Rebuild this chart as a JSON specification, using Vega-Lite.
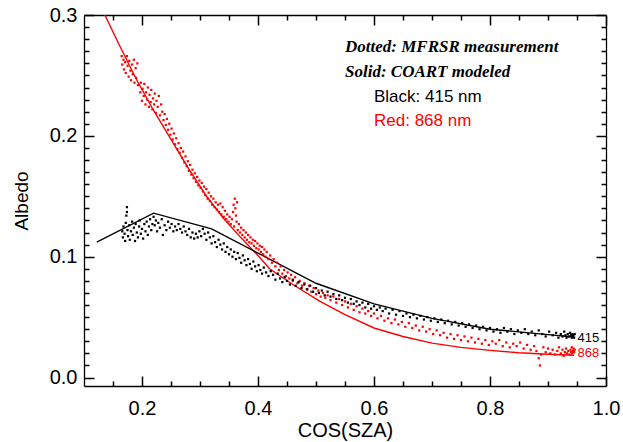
{
"$schema": "https://vega.github.io/schema/vega-lite/v6.json",
"width": 522, "height": 371,
"autosize": {"type": "none"},
"padding": {"left": 84, "top": 15, "right": 17, "bottom": 56},
"background": "white",
"config": {"view": {"stroke": null}, "axis": {"grid": false, "domainColor": "black", "tickColor": "black", "labelColor": "black", "titleColor": "black", "labelFont": "Liberation Sans", "titleFont": "Liberation Sans", "titleFontWeight": "normal", "domainWidth": 1.3, "tickWidth": 1.5, "labelFlush": false, "labelOverlap": false}},
"datasets": {
"redModel": [
{"x":0.136,"y":0.300},{"x":0.16,"y":0.276},{"x":0.19,"y":0.247},{"x":0.22,"y":0.221},{"x":0.25,"y":0.197},{"x":0.28,"y":0.173},{"x":0.31,"y":0.151},{"x":0.34,"y":0.132},{"x":0.37,"y":0.116},{"x":0.40,"y":0.101},{"x":0.42,"y":0.090},{"x":0.46,"y":0.077},{"x":0.507,"y":0.063},{"x":0.55,"y":0.052},{"x":0.60,"y":0.041},{"x":0.65,"y":0.034},{"x":0.70,"y":0.0285},{"x":0.75,"y":0.025},{"x":0.80,"y":0.0225},{"x":0.85,"y":0.0205},{"x":0.90,"y":0.0193},{"x":0.945,"y":0.0185}
],
"blackModel": [
{"x":0.122,"y":0.112},{"x":0.22,"y":0.136},{"x":0.32,"y":0.123},{"x":0.40,"y":0.103},{"x":0.50,"y":0.078},{"x":0.60,"y":0.061},{"x":0.70,"y":0.049},{"x":0.80,"y":0.040},{"x":0.90,"y":0.0355},{"x":0.945,"y":0.0335}
],
"blackMeas": [
{"x":0.166,"y":0.121},{"x":0.167,"y":0.116},{"x":0.168,"y":0.125},{"x":0.170,"y":0.119},{"x":0.171,"y":0.113},{"x":0.172,"y":0.128},{"x":0.173,"y":0.134},{"x":0.174,"y":0.141},{"x":0.174,"y":0.137},{"x":0.175,"y":0.122},{"x":0.176,"y":0.117},{"x":0.178,"y":0.126},{"x":0.179,"y":0.114},{"x":0.181,"y":0.121},{"x":0.183,"y":0.129},{"x":0.184,"y":0.118},{"x":0.186,"y":0.124},{"x":0.188,"y":0.113},{"x":0.189,"y":0.127},{"x":0.191,"y":0.120},{"x":0.193,"y":0.116},{"x":0.195,"y":0.125},{"x":0.196,"y":0.130},{"x":0.198,"y":0.119},{"x":0.200,"y":0.123},{"x":0.202,"y":0.115},{"x":0.204,"y":0.127},{"x":0.206,"y":0.121},{"x":0.208,"y":0.129},{"x":0.210,"y":0.118},{"x":0.212,"y":0.125},{"x":0.214,"y":0.131},{"x":0.216,"y":0.122},{"x":0.218,"y":0.127},{"x":0.220,"y":0.133},{"x":0.222,"y":0.126},{"x":0.224,"y":0.130},{"x":0.226,"y":0.121},{"x":0.228,"y":0.128},{"x":0.231,"y":0.124},{"x":0.234,"y":0.131},{"x":0.236,"y":0.118},{"x":0.239,"y":0.126},{"x":0.242,"y":0.122},{"x":0.245,"y":0.129},{"x":0.248,"y":0.124},{"x":0.251,"y":0.127},{"x":0.254,"y":0.121},{"x":0.257,"y":0.125},{"x":0.260,"y":0.122},{"x":0.263,"y":0.127},{"x":0.266,"y":0.123},{"x":0.269,"y":0.120},{"x":0.272,"y":0.125},{"x":0.275,"y":0.121},{"x":0.278,"y":0.118},{"x":0.281,"y":0.123},{"x":0.284,"y":0.116},{"x":0.287,"y":0.120},{"x":0.290,"y":0.115},{"x":0.293,"y":0.119},{"x":0.296,"y":0.116},{"x":0.299,"y":0.121},{"x":0.302,"y":0.117},{"x":0.305,"y":0.123},{"x":0.308,"y":0.119},{"x":0.311,"y":0.114},{"x":0.314,"y":0.120},{"x":0.317,"y":0.116},{"x":0.320,"y":0.111},{"x":0.323,"y":0.117},{"x":0.326,"y":0.112},{"x":0.329,"y":0.108},{"x":0.332,"y":0.114},{"x":0.335,"y":0.110},{"x":0.338,"y":0.106},{"x":0.341,"y":0.111},{"x":0.344,"y":0.104},{"x":0.347,"y":0.108},{"x":0.350,"y":0.102},{"x":0.353,"y":0.106},{"x":0.356,"y":0.100},{"x":0.359,"y":0.104},{"x":0.362,"y":0.098},{"x":0.365,"y":0.103},{"x":0.368,"y":0.099},{"x":0.371,"y":0.095},{"x":0.374,"y":0.101},{"x":0.377,"y":0.097},{"x":0.380,"y":0.093},{"x":0.383,"y":0.098},{"x":0.386,"y":0.094},{"x":0.389,"y":0.090},{"x":0.392,"y":0.096},{"x":0.395,"y":0.092},{"x":0.398,"y":0.088},{"x":0.401,"y":0.093},{"x":0.404,"y":0.089},{"x":0.407,"y":0.086},{"x":0.410,"y":0.091},{"x":0.414,"y":0.087},{"x":0.418,"y":0.084},{"x":0.422,"y":0.088},{"x":0.426,"y":0.085},{"x":0.430,"y":0.081},{"x":0.434,"y":0.086},{"x":0.438,"y":0.082},{"x":0.442,"y":0.079},{"x":0.446,"y":0.083},{"x":0.450,"y":0.080},{"x":0.455,"y":0.077},{"x":0.460,"y":0.081},{"x":0.465,"y":0.076},{"x":0.470,"y":0.079},{"x":0.475,"y":0.074},{"x":0.480,"y":0.077},{"x":0.485,"y":0.073},{"x":0.490,"y":0.076},{"x":0.495,"y":0.071},{"x":0.500,"y":0.074},{"x":0.505,"y":0.070},{"x":0.510,"y":0.072},{"x":0.515,"y":0.068},{"x":0.520,"y":0.071},{"x":0.525,"y":0.067},{"x":0.530,"y":0.069},{"x":0.535,"y":0.065},{"x":0.540,"y":0.068},{"x":0.545,"y":0.064},{"x":0.550,"y":0.066},{"x":0.555,"y":0.062},{"x":0.560,"y":0.065},{"x":0.565,"y":0.061},{"x":0.570,"y":0.063},{"x":0.575,"y":0.060},{"x":0.580,"y":0.062},{"x":0.585,"y":0.058},{"x":0.590,"y":0.061},{"x":0.595,"y":0.057},{"x":0.600,"y":0.059},{"x":0.605,"y":0.056},{"x":0.610,"y":0.058},{"x":0.615,"y":0.055},{"x":0.620,"y":0.057},{"x":0.626,"y":0.053},{"x":0.632,"y":0.056},{"x":0.638,"y":0.052},{"x":0.644,"y":0.055},{"x":0.650,"y":0.051},{"x":0.656,"y":0.053},{"x":0.662,"y":0.050},{"x":0.668,"y":0.052},{"x":0.674,"y":0.049},{"x":0.680,"y":0.051},{"x":0.686,"y":0.048},{"x":0.692,"y":0.050},{"x":0.698,"y":0.047},{"x":0.704,"y":0.049},{"x":0.710,"y":0.046},{"x":0.716,"y":0.048},{"x":0.722,"y":0.045},{"x":0.728,"y":0.047},{"x":0.734,"y":0.044},{"x":0.740,"y":0.046},{"x":0.746,"y":0.043},{"x":0.752,"y":0.045},{"x":0.758,"y":0.042},{"x":0.764,"y":0.044},{"x":0.770,"y":0.041},{"x":0.776,"y":0.043},{"x":0.782,"y":0.040},{"x":0.788,"y":0.042},{"x":0.794,"y":0.039},{"x":0.800,"y":0.041},{"x":0.806,"y":0.038},{"x":0.812,"y":0.040},{"x":0.818,"y":0.037},{"x":0.824,"y":0.041},{"x":0.830,"y":0.038},{"x":0.836,"y":0.040},{"x":0.842,"y":0.036},{"x":0.848,"y":0.039},{"x":0.854,"y":0.037},{"x":0.860,"y":0.040},{"x":0.866,"y":0.036},{"x":0.872,"y":0.038},{"x":0.878,"y":0.035},{"x":0.884,"y":0.039},{"x":0.890,"y":0.036},{"x":0.896,"y":0.034},{"x":0.902,"y":0.038},{"x":0.908,"y":0.035},{"x":0.914,"y":0.037},{"x":0.918,"y":0.033},{"x":0.922,"y":0.036},{"x":0.925,"y":0.034},{"x":0.928,"y":0.038},{"x":0.930,"y":0.035},{"x":0.932,"y":0.033},{"x":0.934,"y":0.036},{"x":0.936,"y":0.034},{"x":0.938,"y":0.037},{"x":0.940,"y":0.035},{"x":0.941,"y":0.033},{"x":0.942,"y":0.036},{"x":0.943,"y":0.034},{"x":0.944,"y":0.035},{"x":0.945,"y":0.033},{"x":0.946,"y":0.036}
],
"redMeas": [
{"x":0.165,"y":0.266},{"x":0.166,"y":0.259},{"x":0.168,"y":0.263},{"x":0.169,"y":0.255},{"x":0.171,"y":0.261},{"x":0.172,"y":0.252},{"x":0.174,"y":0.266},{"x":0.175,"y":0.258},{"x":0.177,"y":0.249},{"x":0.178,"y":0.262},{"x":0.180,"y":0.254},{"x":0.181,"y":0.246},{"x":0.183,"y":0.259},{"x":0.184,"y":0.251},{"x":0.186,"y":0.263},{"x":0.187,"y":0.244},{"x":0.189,"y":0.256},{"x":0.190,"y":0.248},{"x":0.192,"y":0.260},{"x":0.193,"y":0.242},{"x":0.197,"y":0.236},{"x":0.198,"y":0.244},{"x":0.200,"y":0.229},{"x":0.201,"y":0.239},{"x":0.203,"y":0.233},{"x":0.204,"y":0.243},{"x":0.206,"y":0.226},{"x":0.207,"y":0.236},{"x":0.209,"y":0.230},{"x":0.210,"y":0.240},{"x":0.212,"y":0.224},{"x":0.213,"y":0.234},{"x":0.215,"y":0.228},{"x":0.216,"y":0.238},{"x":0.218,"y":0.222},{"x":0.219,"y":0.231},{"x":0.221,"y":0.226},{"x":0.222,"y":0.235},{"x":0.224,"y":0.219},{"x":0.225,"y":0.229},{"x":0.227,"y":0.224},{"x":0.229,"y":0.233},{"x":0.231,"y":0.217},{"x":0.233,"y":0.226},{"x":0.235,"y":0.220},{"x":0.237,"y":0.213},{"x":0.239,"y":0.218},{"x":0.241,"y":0.209},{"x":0.243,"y":0.214},{"x":0.245,"y":0.205},{"x":0.247,"y":0.210},{"x":0.249,"y":0.201},{"x":0.251,"y":0.206},{"x":0.253,"y":0.197},{"x":0.255,"y":0.202},{"x":0.257,"y":0.193},{"x":0.259,"y":0.198},{"x":0.261,"y":0.189},{"x":0.263,"y":0.194},{"x":0.265,"y":0.186},{"x":0.267,"y":0.190},{"x":0.269,"y":0.182},{"x":0.271,"y":0.187},{"x":0.273,"y":0.178},{"x":0.275,"y":0.183},{"x":0.277,"y":0.175},{"x":0.279,"y":0.179},{"x":0.281,"y":0.171},{"x":0.283,"y":0.176},{"x":0.285,"y":0.168},{"x":0.287,"y":0.172},{"x":0.289,"y":0.165},{"x":0.291,"y":0.169},{"x":0.293,"y":0.162},{"x":0.295,"y":0.166},{"x":0.297,"y":0.159},{"x":0.299,"y":0.163},{"x":0.301,"y":0.157},{"x":0.303,"y":0.161},{"x":0.305,"y":0.154},{"x":0.307,"y":0.158},{"x":0.309,"y":0.151},{"x":0.311,"y":0.156},{"x":0.313,"y":0.148},{"x":0.315,"y":0.153},{"x":0.317,"y":0.146},{"x":0.319,"y":0.150},{"x":0.321,"y":0.143},{"x":0.323,"y":0.148},{"x":0.325,"y":0.141},{"x":0.327,"y":0.145},{"x":0.329,"y":0.139},{"x":0.331,"y":0.143},{"x":0.333,"y":0.137},{"x":0.335,"y":0.144},{"x":0.337,"y":0.135},{"x":0.339,"y":0.141},{"x":0.341,"y":0.133},{"x":0.343,"y":0.138},{"x":0.345,"y":0.131},{"x":0.347,"y":0.135},{"x":0.349,"y":0.129},{"x":0.351,"y":0.133},{"x":0.353,"y":0.127},{"x":0.355,"y":0.131},{"x":0.357,"y":0.137},{"x":0.358,"y":0.143},{"x":0.359,"y":0.125},{"x":0.360,"y":0.148},{"x":0.361,"y":0.140},{"x":0.362,"y":0.134},{"x":0.363,"y":0.129},{"x":0.364,"y":0.145},{"x":0.365,"y":0.122},{"x":0.367,"y":0.127},{"x":0.369,"y":0.120},{"x":0.371,"y":0.124},{"x":0.373,"y":0.118},{"x":0.375,"y":0.122},{"x":0.377,"y":0.116},{"x":0.379,"y":0.120},{"x":0.381,"y":0.114},{"x":0.383,"y":0.118},{"x":0.385,"y":0.112},{"x":0.387,"y":0.116},{"x":0.389,"y":0.111},{"x":0.391,"y":0.114},{"x":0.393,"y":0.109},{"x":0.395,"y":0.113},{"x":0.397,"y":0.107},{"x":0.399,"y":0.111},{"x":0.401,"y":0.106},{"x":0.403,"y":0.109},{"x":0.405,"y":0.104},{"x":0.407,"y":0.108},{"x":0.409,"y":0.102},{"x":0.411,"y":0.106},{"x":0.413,"y":0.100},{"x":0.415,"y":0.104},{"x":0.418,"y":0.098},{"x":0.421,"y":0.101},{"x":0.424,"y":0.095},{"x":0.427,"y":0.098},{"x":0.430,"y":0.092},{"x":0.433,"y":0.095},{"x":0.436,"y":0.089},{"x":0.439,"y":0.092},{"x":0.442,"y":0.086},{"x":0.445,"y":0.089},{"x":0.448,"y":0.084},{"x":0.451,"y":0.087},{"x":0.454,"y":0.082},{"x":0.457,"y":0.085},{"x":0.460,"y":0.080},{"x":0.464,"y":0.083},{"x":0.468,"y":0.078},{"x":0.472,"y":0.080},{"x":0.476,"y":0.076},{"x":0.480,"y":0.078},{"x":0.484,"y":0.073},{"x":0.488,"y":0.076},{"x":0.492,"y":0.071},{"x":0.496,"y":0.074},{"x":0.500,"y":0.069},{"x":0.504,"y":0.072},{"x":0.508,"y":0.067},{"x":0.512,"y":0.070},{"x":0.516,"y":0.066},{"x":0.520,"y":0.068},{"x":0.525,"y":0.064},{"x":0.530,"y":0.067},{"x":0.535,"y":0.062},{"x":0.540,"y":0.065},{"x":0.545,"y":0.060},{"x":0.550,"y":0.063},{"x":0.555,"y":0.058},{"x":0.560,"y":0.061},{"x":0.565,"y":0.056},{"x":0.570,"y":0.059},{"x":0.575,"y":0.054},{"x":0.580,"y":0.057},{"x":0.585,"y":0.053},{"x":0.590,"y":0.055},{"x":0.595,"y":0.051},{"x":0.600,"y":0.053},{"x":0.606,"y":0.049},{"x":0.612,"y":0.051},{"x":0.618,"y":0.047},{"x":0.624,"y":0.049},{"x":0.630,"y":0.045},{"x":0.636,"y":0.048},{"x":0.642,"y":0.044},{"x":0.648,"y":0.046},{"x":0.654,"y":0.042},{"x":0.660,"y":0.045},{"x":0.666,"y":0.041},{"x":0.672,"y":0.043},{"x":0.678,"y":0.039},{"x":0.684,"y":0.042},{"x":0.690,"y":0.038},{"x":0.696,"y":0.040},{"x":0.702,"y":0.036},{"x":0.708,"y":0.039},{"x":0.714,"y":0.035},{"x":0.720,"y":0.037},{"x":0.726,"y":0.033},{"x":0.732,"y":0.036},{"x":0.738,"y":0.032},{"x":0.744,"y":0.035},{"x":0.750,"y":0.031},{"x":0.756,"y":0.034},{"x":0.762,"y":0.030},{"x":0.768,"y":0.033},{"x":0.774,"y":0.029},{"x":0.780,"y":0.032},{"x":0.786,"y":0.028},{"x":0.792,"y":0.031},{"x":0.798,"y":0.027},{"x":0.804,"y":0.030},{"x":0.810,"y":0.028},{"x":0.816,"y":0.031},{"x":0.822,"y":0.026},{"x":0.828,"y":0.029},{"x":0.834,"y":0.025},{"x":0.840,"y":0.028},{"x":0.846,"y":0.026},{"x":0.852,"y":0.029},{"x":0.858,"y":0.024},{"x":0.864,"y":0.027},{"x":0.870,"y":0.023},{"x":0.876,"y":0.026},{"x":0.880,"y":0.022},{"x":0.884,"y":0.016},{"x":0.886,"y":0.010},{"x":0.888,"y":0.019},{"x":0.892,"y":0.025},{"x":0.896,"y":0.021},{"x":0.900,"y":0.024},{"x":0.904,"y":0.020},{"x":0.908,"y":0.023},{"x":0.912,"y":0.019},{"x":0.916,"y":0.022},{"x":0.919,"y":0.025},{"x":0.922,"y":0.020},{"x":0.925,"y":0.023},{"x":0.927,"y":0.018},{"x":0.929,"y":0.021},{"x":0.931,"y":0.024},{"x":0.933,"y":0.020},{"x":0.935,"y":0.022},{"x":0.937,"y":0.019},{"x":0.939,"y":0.023},{"x":0.940,"y":0.021},{"x":0.941,"y":0.025},{"x":0.942,"y":0.020},{"x":0.943,"y":0.022},{"x":0.944,"y":0.024},{"x":0.945,"y":0.021},{"x":0.946,"y":0.023}
],
"notesSerif": [
{"x":0.55,"y":0.2735,"label":"Dotted: MFRSR measurement"},
{"x":0.55,"y":0.2531,"label":"Solid: COART modeled"}
],
"notesSans": [
{"x":0.6,"y":0.2324,"label":"Black: 415 nm","s":"415"},
{"x":0.6,"y":0.2125,"label":"Red: 868 nm","s":"868"}
],
"endLabels": [
{"x":0.951,"y":0.033,"label":"415","s":"415"},
{"x":0.951,"y":0.020,"label":"868","s":"868"}
]
},
"resolve": {"axis": {"x": "independent", "y": "independent"}},
"layer": [
{
"data": {"name": "redModel"},
"mark": {"type": "line", "color": "#ff0000", "strokeWidth": 1.4, "clip": true},
"encoding": {
"x": {"field": "x", "type": "quantitative", "scale": {"domain": [0.1, 1.0], "nice": false, "zero": false},
"axis": {"orient": "bottom", "values": [0.2, 0.4, 0.6, 0.8, 1.0], "format": ".1f", "ticks": false, "labelPadding": 12, "labelFontSize": 20, "title": "COS(SZA)", "titleFontSize": 20, "titlePadding": 2}},
"y": {"field": "y", "type": "quantitative", "scale": {"domain": [-0.007, 0.3], "nice": false, "zero": false},
"axis": {"orient": "left", "values": [0, 0.1, 0.2, 0.3], "format": ".1f", "ticks": false, "labelPadding": 7, "labelFontSize": 20, "title": "Albedo", "titleFontSize": 19, "titlePadding": 18}}
}
},
{
"data": {"name": "blackModel"},
"mark": {"type": "line", "color": "black", "strokeWidth": 1.4, "clip": true},
"encoding": {
"x": {"field": "x", "type": "quantitative", "scale": {"domain": [0.1, 1.0], "nice": false, "zero": false},
"axis": {"orient": "top", "values": [0.2, 0.4, 0.6, 0.8, 1.0], "ticks": false, "labels": false, "title": null}},
"y": {"field": "y", "type": "quantitative", "scale": {"domain": [-0.007, 0.3], "nice": false, "zero": false},
"axis": {"orient": "right", "values": [0, 0.1, 0.2, 0.3], "ticks": false, "labels": false, "title": null}}
}
},
{
"data": {"name": "redMeas"},
"mark": {"type": "square", "color": "#ff0000", "size": 5, "opacity": 1, "clip": true},
"encoding": {
"x": {"field": "x", "type": "quantitative", "scale": {"domain": [0.1, 1.0], "nice": false, "zero": false},
"axis": {"orient": "bottom", "offset": -10, "values": [0.2, 0.4, 0.6, 0.8, 1.0], "tickSize": 10, "tickColor": "black", "tickWidth": 1.5, "labels": false, "domain": false, "title": null}},
"y": {"field": "y", "type": "quantitative", "scale": {"domain": [-0.007, 0.3], "nice": false, "zero": false},
"axis": {"orient": "left", "offset": -10, "values": [0, 0.1, 0.2, 0.3], "tickSize": 10, "tickColor": "black", "tickWidth": 1.5, "labels": false, "domain": false, "title": null}}
}
},
{
"data": {"name": "blackMeas"},
"mark": {"type": "square", "color": "black", "size": 5, "opacity": 1, "clip": true},
"encoding": {
"x": {"field": "x", "type": "quantitative", "scale": {"domain": [0.1, 1.0], "nice": false, "zero": false},
"axis": {"orient": "top", "offset": -10, "values": [0.2, 0.4, 0.6, 0.8, 1.0], "tickSize": 10, "tickColor": "black", "tickWidth": 1.5, "labels": false, "domain": false, "title": null}},
"y": {"field": "y", "type": "quantitative", "scale": {"domain": [-0.007, 0.3], "nice": false, "zero": false},
"axis": {"orient": "right", "offset": -10, "values": [0, 0.1, 0.2, 0.3], "tickSize": 10, "tickColor": "black", "tickWidth": 1.5, "labels": false, "domain": false, "title": null}}
}
},
{
"data": {"name": "notesSerif"},
"mark": {"type": "text", "align": "left", "baseline": "middle", "font": "Liberation Serif", "fontStyle": "italic", "fontWeight": "bold", "fontSize": 17, "color": "black"},
"encoding": {
"x": {"field": "x", "type": "quantitative", "scale": {"domain": [0.1, 1.0], "nice": false, "zero": false},
"axis": {"orient": "bottom", "offset": -5, "values": [0.15, 0.25, 0.3, 0.35, 0.45, 0.5, 0.55, 0.65, 0.7, 0.75, 0.85, 0.9, 0.95], "tickSize": 5, "tickColor": "black", "tickWidth": 1.5, "labels": false, "domain": false, "title": null}},
"y": {"field": "y", "type": "quantitative", "scale": {"domain": [-0.007, 0.3], "nice": false, "zero": false},
"axis": {"orient": "left", "offset": -5, "values": [0.01,0.02,0.03,0.04,0.05,0.06,0.07,0.08,0.09,0.11,0.12,0.13,0.14,0.15,0.16,0.17,0.18,0.19,0.21,0.22,0.23,0.24,0.25,0.26,0.27,0.28,0.29], "tickSize": 5, "tickColor": "black", "tickWidth": 1.5, "labels": false, "domain": false, "title": null}},
"text": {"field": "label"}
}
},
{
"data": {"name": "notesSans"},
"mark": {"type": "text", "align": "left", "baseline": "middle", "font": "Liberation Sans", "fontSize": 17},
"encoding": {
"x": {"field": "x", "type": "quantitative", "scale": {"domain": [0.1, 1.0], "nice": false, "zero": false},
"axis": {"orient": "top", "offset": -5, "values": [0.15, 0.25, 0.3, 0.35, 0.45, 0.5, 0.55, 0.65, 0.7, 0.75, 0.85, 0.9, 0.95], "tickSize": 5, "tickColor": "black", "tickWidth": 1.5, "labels": false, "domain": false, "title": null}},
"y": {"field": "y", "type": "quantitative", "scale": {"domain": [-0.007, 0.3], "nice": false, "zero": false},
"axis": {"orient": "right", "offset": -5, "values": [0.01,0.02,0.03,0.04,0.05,0.06,0.07,0.08,0.09,0.11,0.12,0.13,0.14,0.15,0.16,0.17,0.18,0.19,0.21,0.22,0.23,0.24,0.25,0.26,0.27,0.28,0.29], "tickSize": 5, "tickColor": "black", "tickWidth": 1.5, "labels": false, "domain": false, "title": null}},
"text": {"field": "label"},
"color": {"field": "s", "type": "nominal", "scale": {"domain": ["415", "868"], "range": ["black", "#ff0000"]}, "legend": null}
}
},
{
"data": {"name": "endLabels"},
"mark": {"type": "text", "align": "left", "baseline": "middle", "font": "Liberation Sans", "fontSize": 13},
"encoding": {
"x": {"field": "x", "type": "quantitative", "axis": null},
"y": {"field": "y", "type": "quantitative", "axis": null},
"text": {"field": "label"},
"color": {"field": "s", "type": "nominal", "scale": {"domain": ["415", "868"], "range": ["black", "#ff0000"]}, "legend": null}
}
}
]
}
